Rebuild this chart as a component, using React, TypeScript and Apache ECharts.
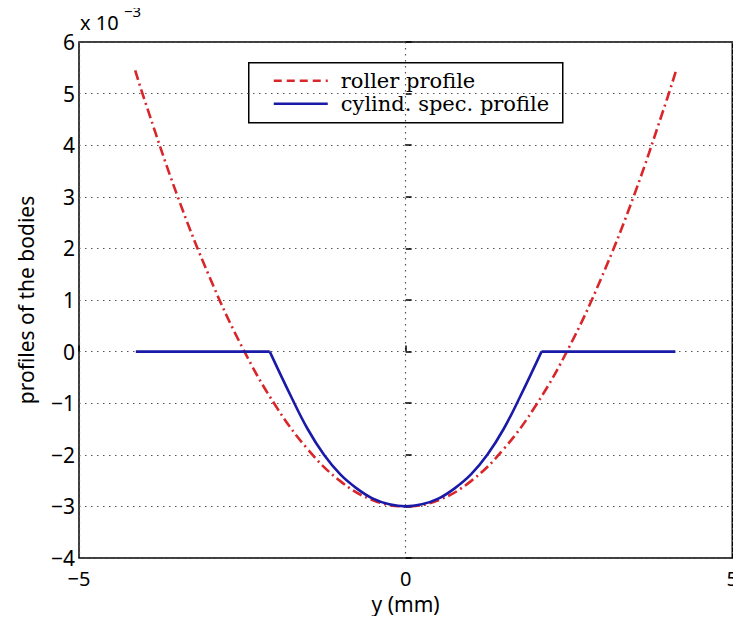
import React, { useEffect, useRef } from "react";
import * as echarts from "echarts";

// y (mm) positions and profile values (x 10^-3)
const rollerX = [-4.14, -4.0, -3.5, -3.0, -2.5, -2.0, -1.5, -1.0, -0.5, 0, 0.5, 1.0, 1.5, 2.0, 2.5, 3.0, 3.5, 4.0, 4.14];
const rollerY = [5.45, 4.89, 3.04, 1.44, 0.08, -1.03, -1.89, -2.51, -2.88, -3.0, -2.88, -2.51, -1.89, -1.03, 0.08, 1.44, 3.04, 4.89, 5.45];

// cylindrical specimen: flat ends and curved middle
const cylFlatLeftX = [-4.13, -2.08];
const cylFlatRightX = [2.08, 4.13];
const cylFlatY = [0, 0];
const cylCurveX = [-2.08, -1.75, -1.5, -1.25, -1.0, -0.75, -0.5, -0.25, 0, 0.25, 0.5, 0.75, 1.0, 1.25, 1.5, 1.75, 2.08];
const cylCurveY = [0, -0.88, -1.5, -2.0, -2.38, -2.65, -2.85, -2.96, -3.0, -2.96, -2.85, -2.65, -2.38, -2.0, -1.5, -0.88, 0];

const legendNames = ["roller profile", "cylind. spec. profile"];
const xLabel = "y (mm)";
const yLabel = "profiles of the bodies";

const RED = "#d8262a";
const BLUE = "#1a1aa8";

export default function App() {
  const ref = useRef<HTMLDivElement>(null);
  useEffect(() => {
    if (!ref.current) return;
    const chart = echarts.init(ref.current, undefined, { renderer: "svg" });
    const sans = "Noto Sans";
    const serif = "DejaVu Serif";
    const minus = (v: number) => String(v).replace("-", "\u2212");
    const pairs = (xs: number[], ys: number[]) => xs.map((x, i) => [x, ys[i]]);
    const blueStyle = { color: BLUE, width: 2.6 };
    chart.setOption({
      animation: false,
      backgroundColor: "#fff",
      grid: {
        left: 79,
        right: 8,
        top: 42,
        bottom: 66,
        show: true,
        borderColor: "#000",
        borderWidth: 1.5,
        backgroundColor: "transparent",
      },
      xAxis: {
        type: "value",
        min: -5,
        max: 5,
        interval: 5,
        name: xLabel,
        nameLocation: "middle",
        nameGap: 35,
        nameTextStyle: { fontFamily: sans, fontSize: 21, color: "#000" },
        axisLine: { show: false },
        axisTick: { show: true, inside: true, length: 6, lineStyle: { color: "#000", width: 1.5 } },
        axisLabel: { fontFamily: sans, fontSize: 20, color: "#000", margin: 10, lineHeight: 20, formatter: minus },
        splitLine: { show: true, lineStyle: { color: "#555", type: [1.5, 4.5], width: 1.2 } },
      },
      yAxis: {
        type: "value",
        min: -4,
        max: 6,
        interval: 1,
        name: yLabel,
        nameLocation: "middle",
        nameGap: 43,
        nameTextStyle: { fontFamily: sans, fontSize: 21, color: "#000" },
        axisLine: { show: false },
        axisTick: { show: true, inside: true, length: 6, lineStyle: { color: "#000", width: 1.5 } },
        axisLabel: { fontFamily: sans, fontSize: 21, color: "#000", margin: 4, lineHeight: 18, formatter: minus },
        splitLine: { show: true, lineStyle: { color: "#555", type: [1.5, 4.5], width: 1.2 } },
      },
      series: [
        {
          name: legendNames[0],
          type: "line",
          data: pairs(rollerX, rollerY),
          smooth: 0.4,
          showSymbol: false,
          lineStyle: { color: RED, width: 2.6, type: [10, 4, 2, 4] },
          z: 3,
        },
        {
          name: legendNames[1],
          type: "line",
          data: pairs(cylCurveX, cylCurveY),
          smooth: 0.4,
          showSymbol: false,
          lineStyle: blueStyle,
          z: 4,
        },
        {
          name: legendNames[1] + " L",
          type: "line",
          data: pairs(cylFlatLeftX, cylFlatY),
          showSymbol: false,
          lineStyle: blueStyle,
          z: 4,
        },
        {
          name: legendNames[1] + " R",
          type: "line",
          data: pairs(cylFlatRightX, cylFlatY),
          showSymbol: false,
          lineStyle: blueStyle,
          z: 4,
        },
      ],
      graphic: [
        {
          type: "text",
          left: 80,
          top: 12,
          style: { text: "x 10", fontFamily: sans, fontSize: 20, fill: "#000" },
        },
        {
          type: "text",
          left: 124,
          top: 3,
          style: { text: "\u22123", fontFamily: sans, fontSize: 15, fill: "#000" },
        },
        {
          type: "group",
          left: 248,
          top: 62,
          z: 100,
          children: [
            {
              type: "rect",
              shape: { x: 0, y: 0, width: 314, height: 60 },
              style: { fill: "#fff", stroke: "#000", lineWidth: 1.5 },
            },
            {
              type: "line",
              shape: { x1: 25, y1: 18, x2: 79, y2: 18 },
              style: { stroke: RED, lineWidth: 2.6, lineDash: [8, 5] },
            },
            {
              type: "line",
              shape: { x1: 25, y1: 41, x2: 79, y2: 41 },
              style: { stroke: BLUE, lineWidth: 2.6 },
            },
            {
              type: "text",
              x: 92,
              y: 18,
              style: { text: legendNames[0], fontFamily: serif, fontSize: 21, lineHeight: 20, fill: "#000", verticalAlign: "middle" },
            },
            {
              type: "text",
              x: 92,
              y: 41,
              style: { text: legendNames[1], fontFamily: serif, fontSize: 21, lineHeight: 20, fill: "#000", verticalAlign: "middle" },
            },
          ],
        },
      ],
    });
    return () => chart.dispose();
  }, []);
  return <div ref={ref} style={{ width: 741, height: 624, margin: -8 }} />;
}
